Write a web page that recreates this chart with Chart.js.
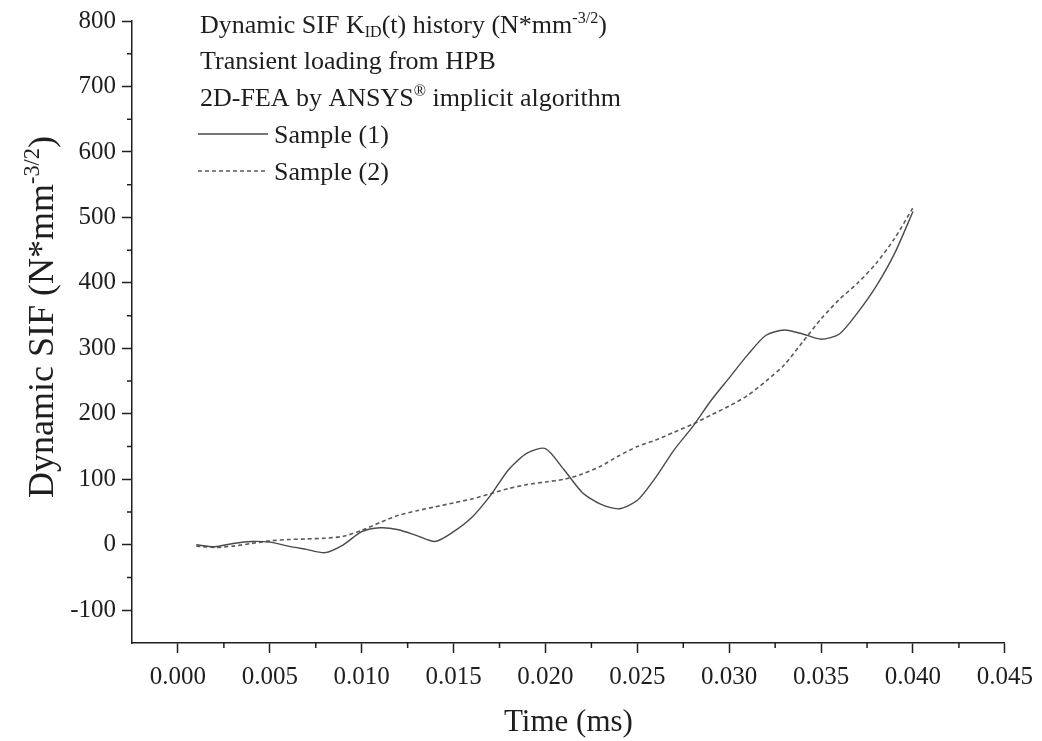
<!DOCTYPE html>
<html>
<head>
<meta charset="utf-8">
<title>Dynamic SIF history</title>
<script src="https://cdn.jsdelivr.net/npm/chart.js@4.4.1/dist/chart.umd.min.js"></script>
<style>
  html, body { margin: 0; padding: 0; background: #fff; }
  #chart { display: block; }
</style>
</head>
<body>
<canvas id="chart" width="1042" height="741"></canvas>
<script>
// Time steps of the transient analysis (ms)
const times = [
    0.001, 0.002, 0.003, 0.004, 0.005, 0.006, 0.007, 0.008, 0.009, 0.010,
    0.011, 0.012, 0.013, 0.014, 0.015, 0.016, 0.017, 0.018, 0.019, 0.020,
    0.021, 0.022, 0.023, 0.024, 0.025, 0.026, 0.027, 0.028, 0.029, 0.030,
    0.031, 0.032, 0.033, 0.034, 0.035, 0.036, 0.037, 0.038, 0.039, 0.040
];

// Dynamic SIF, sample (1) - solid line
const sample1 = [
    0, -3, 2, 5, 4, -2, -7, -12, 0, 20,
    26, 23, 14, 5, 20, 42, 75, 115, 140, 147,
    115, 80, 62, 55, 68, 103, 145, 180, 220, 255,
    290, 320, 328, 322, 314, 322, 355, 395, 445, 509
];

// Dynamic SIF, sample (2) - dashed line
const sample2 = [
    -2, -4, -2, 2, 6, 8, 9, 10, 13, 22,
    34, 45, 52, 58, 64, 70, 78, 86, 92, 96,
    100, 108, 120, 136, 150, 160, 172, 184, 198, 212,
    228, 250, 275, 310, 345, 375, 400, 430, 468, 515
];

const seriesNames = ['Sample (1)', 'Sample (2)'];

// Major tick values
const xTicks = [0, 0.005, 0.010, 0.015, 0.020, 0.025, 0.030, 0.035, 0.040, 0.045];
const yTicks = [-100, 0, 100, 200, 300, 400, 500, 600, 700, 800];

// Header text inside the plot (sub/sup parts marked)
const headerLines = [
    [{ t: 'Dynamic SIF K' }, { t: 'ID', sub: true }, { t: '(t) history (N*mm' }, { t: '-3/2', sup: true }, { t: ')' }],
    [{ t: 'Transient loading from HPB' }],
    [{ t: '2D-FEA by ANSYS' }, { t: '\u00AE', sup: true }, { t: ' implicit algorithm' }]
];
const yTitle = [{ t: 'Dynamic SIF (N*mm' }, { t: '-3/2', sup: true }, { t: ')' }];

const FONT = '"Liberation Serif", "Times New Roman", serif';
const INK = '#1e1e1e';

// Draw text made of normal / superscript / subscript parts
function drawRich(ctx, parts, x, y, size, measureOnly) {
    let cx = x;
    parts.forEach(p => {
        const s = (p.sup || p.sub) ? size * 0.62 : size;
        ctx.font = `${s}px ${FONT}`;
        const dy = p.sup ? -size * 0.40 : (p.sub ? size * 0.16 : 0);
        if (!measureOnly) ctx.fillText(p.t, cx, y + dy);
        cx += ctx.measureText(p.t).width;
    });
    return cx - x;
}

// Header block, legend samples, y title and minor ticks
const decorations = {
    id: 'decorations',
    afterDraw(chart) {
        const ctx = chart.ctx;
        const xs = chart.scales.x;
        const ys = chart.scales.y;
        ctx.save();
        ctx.fillStyle = INK;
        ctx.textBaseline = 'alphabetic';
        ctx.textAlign = 'left';

        // header lines
        const baselines = [33, 69, 106];
        headerLines.forEach((line, i) => drawRich(ctx, line, 200, baselines[i], 26));

        // legend entries
        const legendRows = [143, 180];
        chart.data.datasets.forEach((ds, i) => {
            const yMid = legendRows[i] - 9;
            ctx.save();
            ctx.strokeStyle = ds.borderColor;
            ctx.lineWidth = ds.borderWidth;
            ctx.setLineDash(ds.borderDash || []);
            ctx.beginPath();
            ctx.moveTo(198, yMid);
            ctx.lineTo(268, yMid);
            ctx.stroke();
            ctx.restore();
            ctx.font = `26px ${FONT}`;
            ctx.fillText(ds.label, 274, legendRows[i]);
        });

        // rotated y axis title
        ctx.save();
        ctx.translate(53, 317);
        ctx.rotate(-Math.PI / 2);
        const w = drawRich(ctx, yTitle, 0, 0, 36, true);
        drawRich(ctx, yTitle, -w / 2, 0, 36);
        ctx.restore();

        // minor ticks half way between major ticks
        ctx.strokeStyle = INK;
        ctx.lineWidth = 1.5;
        ctx.beginPath();
        for (let i = 0; i < xTicks.length - 1; i++) {
            const px = xs.getPixelForValue((xTicks[i] + xTicks[i + 1]) / 2);
            ctx.moveTo(px, xs.top);
            ctx.lineTo(px, xs.top + 5);
        }
        for (let i = 0; i < yTicks.length - 1; i++) {
            const py = ys.getPixelForValue((yTicks[i] + yTicks[i + 1]) / 2);
            ctx.moveTo(ys.right, py);
            ctx.lineTo(ys.right - 5, py);
        }
        ctx.stroke();
        ctx.restore();
    }
};

const axisBorder = { display: true, color: INK, width: 1.5 };
const axisGrid = { drawOnChartArea: false, drawTicks: true, tickLength: 10, tickColor: INK, tickWidth: 1.5 };

new Chart(document.getElementById('chart'), {
    type: 'line',
    data: {
        datasets: [
            {
                label: seriesNames[0],
                data: times.map((t, i) => ({ x: t, y: sample1[i] })),
                borderColor: '#4a4a4a',
                borderWidth: 1.4,
                pointRadius: 0,
                tension: 0.25,
                fill: false
            },
            {
                label: seriesNames[1],
                data: times.map((t, i) => ({ x: t, y: sample2[i] })),
                borderColor: '#5a5a5a',
                borderWidth: 1.6,
                borderDash: [4, 3],
                pointRadius: 0,
                tension: 0.25,
                fill: false
            }
        ]
    },
    options: {
        responsive: false,
        animation: false,
        events: [],
        layout: { padding: { top: 19, right: 36, left: 0, bottom: 0 } },
        plugins: {
            legend: { display: false },
            tooltip: { enabled: false }
        },
        scales: {
            x: {
                type: 'linear',
                min: -0.0025,
                max: 0.045,
                afterBuildTicks: scale => { scale.ticks = xTicks.map(v => ({ value: v })); },
                afterFit: scale => { scale.height = 98; },
                border: axisBorder,
                grid: axisGrid,
                ticks: {
                    autoSkip: false,
                    maxRotation: 0,
                    padding: 9,
                    color: INK,
                    font: { family: FONT, size: 25 },
                    callback: v => v.toFixed(3)
                },
                title: {
                    display: true,
                    text: 'Time (ms)',
                    color: INK,
                    padding: { top: 0, bottom: 0 },
                    font: { family: FONT, size: 31 }
                }
            },
            y: {
                type: 'linear',
                min: -150,
                max: 800,
                afterBuildTicks: scale => { scale.ticks = yTicks.map(v => ({ value: v })); },
                afterFit: scale => { scale.width = 132; },
                border: axisBorder,
                grid: axisGrid,
                ticks: {
                    autoSkip: false,
                    padding: 6,
                    color: INK,
                    font: { family: FONT, size: 25 },
                    callback: v => String(v)
                }
            }
        }
    },
    plugins: [decorations]
});
</script>
</body>
</html>
